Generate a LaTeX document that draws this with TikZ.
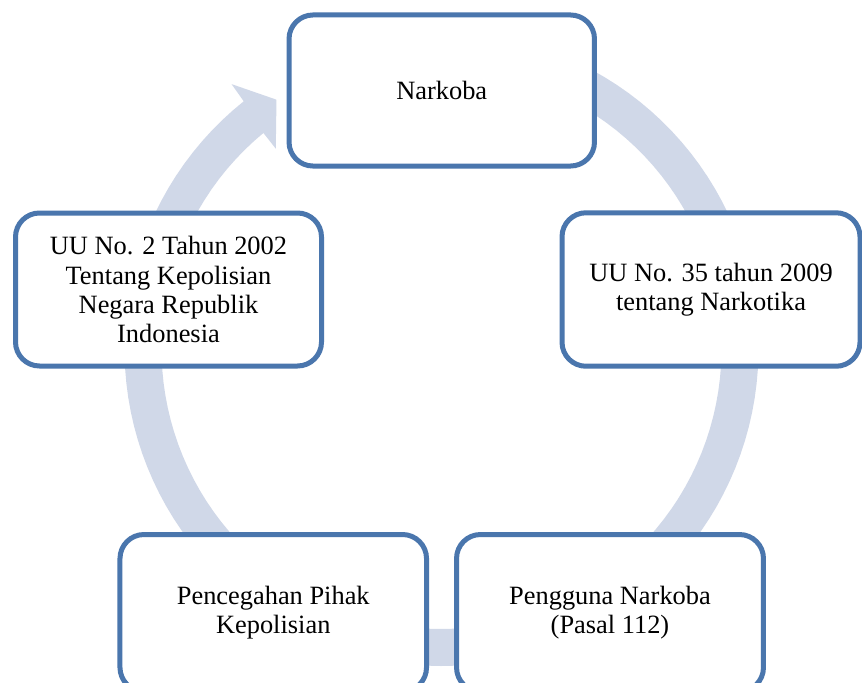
\documentclass[tikz,border=0pt]{standalone}
\usepackage{fontspec}
\setmainfont{Liberation Serif}
\definecolor{boxblue}{HTML}{4A76AD}
\definecolor{bandblue}{HTML}{D0D8E8}
\begin{document}
\begin{tikzpicture}[x=0.75pt,y=-0.75pt,
  cbox/.style={draw=boxblue, line width=3.75pt, rounded corners=18pt, fill=white,
    align=center, inner sep=0pt, font=\fontsize{19.8pt}{21.8pt}\selectfont}]
\useasboundingbox (0,0) rectangle (862,682);
\clip (0,0) rectangle (862,682);
\fill[white] (0,0) rectangle (862,682);
% circular arrow band
\fill[bandblue]
  plot[domain=-80:231.4, samples=120] ({441.5+317*cos(\x)},{349+317*sin(\x)})
  -- ({441.5+338*cos(231.6)},{349+338*sin(231.6)})
  -- ({441.5+299*cos(236.5)},{349+299*sin(236.5)})
  -- ({441.5+260*cos(230.4)},{349+260*sin(230.4)})
  -- plot[domain=230.5:-80, samples=120] ({441.5+280*cos(\x)},{349+280*sin(\x)})
  -- cycle;
% boxes
\node[cbox, minimum width=229.1pt, minimum height=113.3pt] (top) at (441.75,90.5) {Narkoba};
\node[cbox, minimum width=223.5pt, minimum height=115.1pt] (right) at (711,289.5) {UU No. 35 tahun 2009\\tentang Narkotika};
\node[cbox, minimum width=230.2pt, minimum height=117.75pt] (botright) at (610,613) {Pengguna Narkoba\\(Pasal 112)};
\node[cbox, minimum width=229.9pt, minimum height=117.75pt] (botleft) at (273.25,613) {Pencegahan Pihak\\Kepolisian};
\node[cbox, minimum width=229.5pt, minimum height=114.75pt] (left) at (168.5,289.5) {UU No. 2 Tahun 2002\\Tentang Kepolisian\\Negara Republik\\Indonesia};
\end{tikzpicture}
\end{document}
